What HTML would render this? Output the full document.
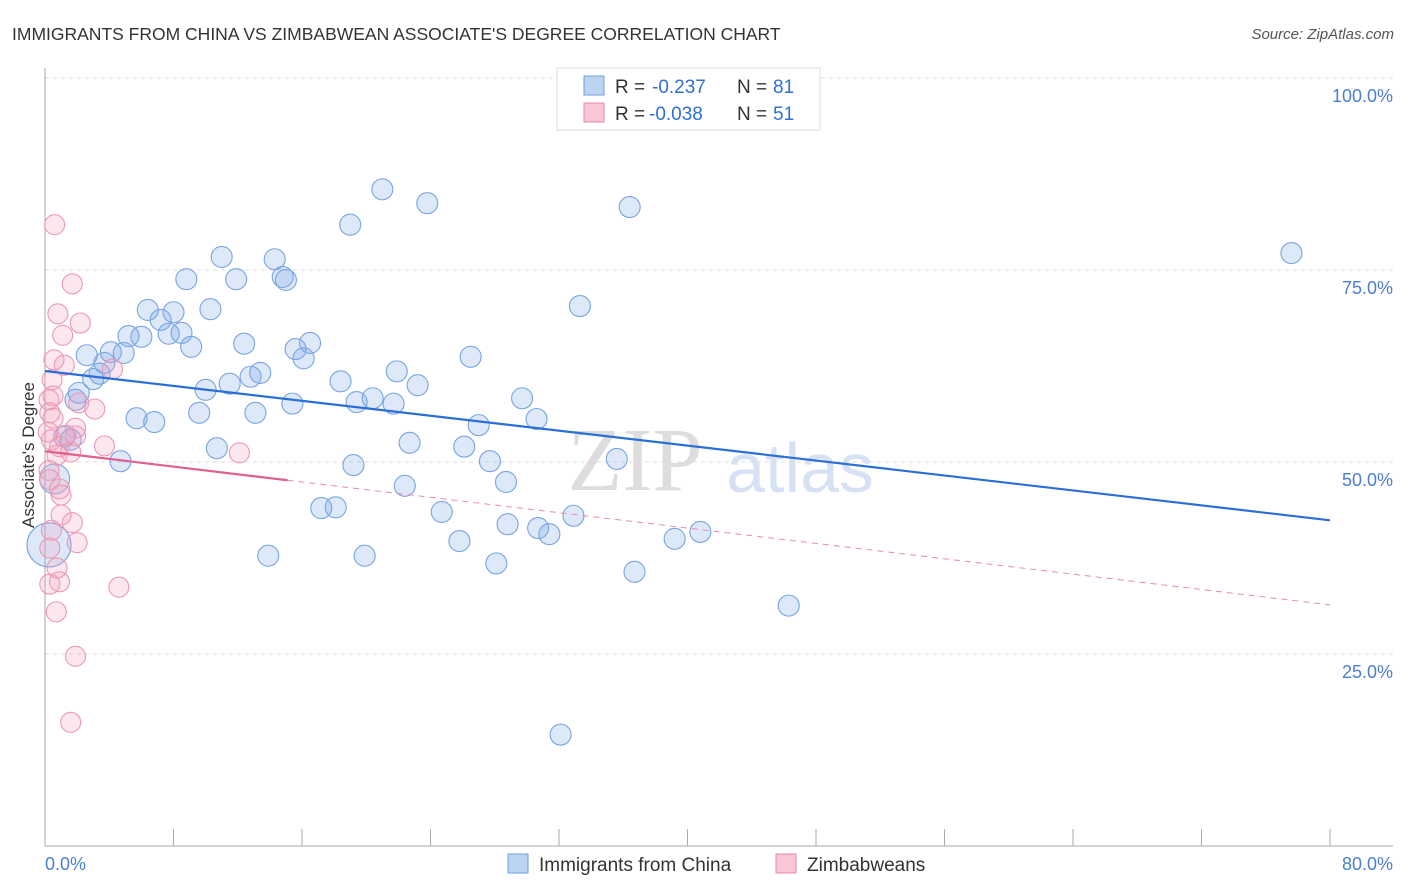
<!DOCTYPE html>
<html><head><meta charset="utf-8"><style>
body{margin:0;background:#fff;font-family:"Liberation Sans",sans-serif;}
svg{display:block}
</style></head><body>
<svg id="chart" width="1406" height="892">
<text x="12" y="40" font-size="17.5" fill="#333">IMMIGRANTS FROM CHINA VS ZIMBABWEAN ASSOCIATE'S DEGREE CORRELATION CHART</text>
<text x="1394" y="39" font-size="15" fill="#555" font-style="italic" text-anchor="end">Source: ZipAtlas.com</text>
<text x="635" y="490" font-size="90" fill="#ddd" font-family="Liberation Serif,serif" text-anchor="middle">ZIP</text>
<text x="800" y="492" font-size="70" fill="#d6e2f4" text-anchor="middle">atlas</text>
<g id="grid"></g><g id="axes"></g><g id="pts"></g><g id="trends"></g>
<text transform="translate(34,455) rotate(-90)" font-size="17" fill="#333" text-anchor="middle">Associate's Degree</text>
<text x="45" y="870" font-size="18" fill="#4a7fd6">0.0%</text>
<text x="1393" y="870" font-size="18" fill="#4a7fd6" text-anchor="end">80.0%</text>
<g>
<rect x="557" y="68" width="263" height="62" fill="#fff" stroke="#ddd"/>
<rect x="584" y="76" width="20" height="19" fill="#bcd3f2" stroke="#6e9fe0"/>
<rect x="584" y="103" width="20" height="19" fill="#f9c6d6" stroke="#e88aaa"/>
<text x="615" y="93" font-size="19" fill="#333">R =</text>
<text x="652" y="93" font-size="19" fill="#2f6fd6">-0.237</text>
<text x="737" y="93" font-size="19" fill="#333">N =</text>
<text x="773" y="93" font-size="19" fill="#2f6fd6">81</text>
<text x="615" y="120" font-size="19" fill="#333">R =</text>
<text x="649" y="120" font-size="19" fill="#2f6fd6">-0.038</text>
<text x="737" y="120" font-size="19" fill="#333">N =</text>
<text x="773" y="120" font-size="19" fill="#2f6fd6">51</text>
</g>
<g>
<rect x="508" y="854" width="20" height="19" fill="#bcd3f2" stroke="#6e9fe0"/>
<text x="539" y="871" font-size="19" fill="#333">Immigrants from China</text>
<rect x="776" y="854" width="20" height="19" fill="#f9c6d6" stroke="#e88aaa"/>
<text x="807" y="871" font-size="19" fill="#333">Zimbabweans</text>
</g>
</svg>
<script>
const blueX=[21.0,23.8,36.4,19.0,77.6,11.0,14.3,8.8,11.9,14.8,15.0,33.3,6.4,8.0,10.3,7.2,5.2,6.0,7.7,8.5,9.1,12.4,16.5,15.6,16.1,2.6,4.1,4.9,3.7,26.5,21.9,13.4,12.8,3.4,3.0,18.4,11.5,23.2,10.0,2.1,1.9,20.4,19.4,21.7,29.7,15.4,30.6,5.7,6.8,9.6,13.1,27.0,1.2,22.7,26.1,10.7,4.7,27.7,19.2,35.6,0.6,28.7,22.4,17.2,18.1,24.7,32.9,28.8,30.7,31.4,40.8,39.2,25.8,0.25,13.9,19.9,28.1,36.7,46.3,32.1,1.6];
const blueY=[85.5,83.7,83.2,80.9,77.2,76.7,76.4,73.8,73.8,74.1,73.7,70.3,69.8,69.5,69.9,68.5,66.4,66.3,66.7,66.8,65.0,65.4,65.5,64.7,63.5,63.9,64.3,64.2,62.9,63.7,61.8,61.6,61.1,61.5,60.8,60.5,60.2,60.0,59.4,59.0,58.1,58.3,57.8,57.6,58.3,57.6,55.6,55.7,55.2,56.4,56.4,54.8,53.3,52.5,52.0,51.8,50.1,50.1,49.6,50.4,47.8,47.4,46.9,44.0,44.1,43.5,43.0,41.9,41.4,40.6,40.9,40.0,39.7,39.2,37.8,37.8,36.8,35.7,31.3,14.5,52.9];
const blueR=blueX.map((v,i)=>i===60?15:(i===73?22:10.5));
const pinkX=[0.6,1.7,0.8,2.2,1.1,0.56,1.2,4.2,0.44,0.5,0.25,2.1,3.1,0.3,0.5,0.2,0.4,0.9,1.9,1.9,1.6,0.75,12.1,0.25,0.3,0.9,1.0,1.0,1.7,0.4,2.0,0.3,0.75,0.9,0.3,4.6,0.7,1.9,1.6,3.7,1.3];
const pinkY=[80.9,73.2,69.3,68.1,66.5,63.3,62.6,62.1,60.7,58.6,58.1,57.7,56.9,56.4,55.7,53.9,52.9,52.0,53.4,54.4,51.3,50.9,51.2,48.9,47.7,46.5,45.7,43.1,42.1,41.1,39.5,38.8,36.2,34.4,34.1,33.7,30.5,24.7,16.1,52.1,53.5];
const blueTrend=[61.85,-0.243];
const pinkTrend=[51.4,-0.25];
const pinkSolidEnd=[15.1];
const yTicks=[25,50,75,100];
const yTickLabels=["25.0%","50.0%","75.0%","100.0%"];
const xTicks=[0,8,16,24,32,40,48,56,64,72,80];
const NS="http://www.w3.org/2000/svg";
const X=v=>45+v*1285/80, Y=v=>846-v*7.68;
function mk(tag,attrs,parent){const e=document.createElementNS(NS,tag);for(const k in attrs)e.setAttribute(k,attrs[k]);document.getElementById(parent).appendChild(e);return e;}
yTicks.forEach((t,i)=>{
 const l=mk('line',{x1:45,x2:1393,y1:Y(t),y2:Y(t),stroke:'#ddd','stroke-dasharray':'4,4'},'grid');
 
 
 const tx=mk('text',{x:1393,y:Y(t)+24,'font-size':18,fill:'#4a7fd6','text-anchor':'end'},'grid');
 tx.textContent=yTickLabels[i];
 
 
});
const ax=mk('line',{x1:45,x2:45,y1:68,y2:846,stroke:'#aaa'},'axes');


const bx=mk('line',{x1:45,x2:1393,y1:846,y2:846,stroke:'#aaa'},'axes');


xTicks.forEach(t=>{
 const l=mk('line',{x1:X(t),x2:X(t),y1:829,y2:846,stroke:'#aaa'},'axes');
 
 
});
blueX.forEach((v,i)=>{
 const c=mk('circle',{cx:X(v),cy:Y(blueY[i]),r:blueR[i],fill:'rgba(120,165,230,0.25)',stroke:'#78a4e2','stroke-width':1.1},'pts');
 
 
});
pinkX.forEach((v,i)=>{
 const c=mk('circle',{cx:X(v),cy:Y(pinkY[i]),r:10,fill:'rgba(245,160,190,0.25)',stroke:'#ec98b4','stroke-width':1.1},'pts');
 
 
});
const bt=mk('line',{x1:X(0),y1:Y(blueTrend[0]),x2:X(80),y2:Y(blueTrend[0]+blueTrend[1]*80),stroke:'#2a6fd8','stroke-width':2.2},'trends');


const pe=pinkSolidEnd[0];
const ps=mk('line',{x1:X(0),y1:Y(pinkTrend[0]),x2:X(pe),y2:Y(pinkTrend[0]+pinkTrend[1]*pe),stroke:'#e0608e','stroke-width':2.2},'trends');


const pd=mk('line',{x1:X(pe),y1:Y(pinkTrend[0]+pinkTrend[1]*pe),x2:X(80),y2:Y(pinkTrend[0]+pinkTrend[1]*80),stroke:'#e88aaa','stroke-width':1,'stroke-dasharray':'6,5'},'trends');


</script>
</body></html>
